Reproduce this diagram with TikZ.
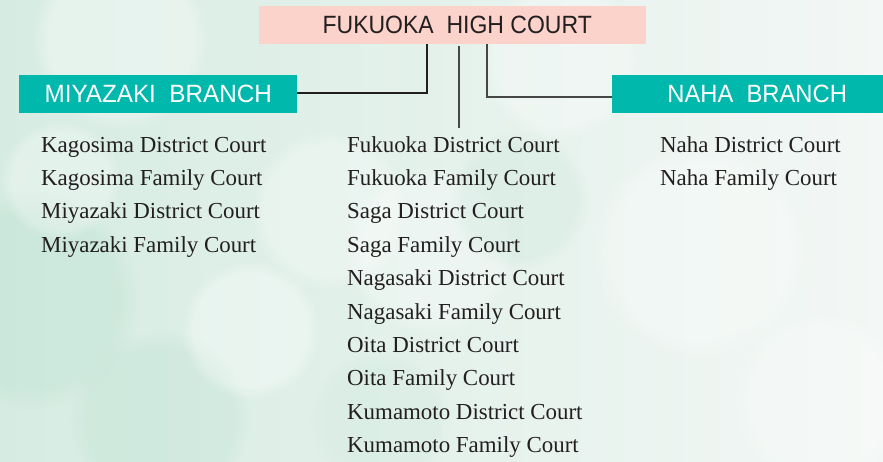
\documentclass[tikz,border=0pt]{standalone}
\usepackage{fontspec}
\setmainfont{Liberation Serif}
\newfontfamily\hdfont[FakeStretch=0.92]{Liberation Sans}
\newfontfamily\brfont[FakeStretch=0.97]{Liberation Sans}
\newfontfamily\nbfont[FakeStretch=0.95]{Liberation Sans}
\usetikzlibrary{fadings}
\definecolor{bgleft}{RGB}{214,236,226}
\definecolor{bgright}{RGB}{243,247,245}
\definecolor{mint}{RGB}{185,224,207}
\definecolor{pinkbox}{RGB}{251,211,202}
\definecolor{tealbox}{RGB}{0,184,172}
\definecolor{ink}{RGB}{35,31,32}
\definecolor{lineg}{RGB}{70,70,70}
\tikzset{
  hcbox/.style={fill=pinkbox, minimum width=387pt, minimum height=38pt, inner sep=0pt,
    font=\hdfont\fontsize{25}{25}\selectfont, text=ink},
  brbox/.style={fill=tealbox, minimum height=38pt, inner sep=0pt,
    font=\brfont\fontsize{25}{25}\selectfont, text=white},
  court/.style={anchor=base west, inner sep=0pt, font=\fontsize{22.9}{24}\selectfont, text=ink},
  conn/.style={draw=lineg, line width=1.1pt},
  bokeh/.style={path fading=circle with fuzzy edge 20 percent},
}
\begin{document}
\begin{tikzpicture}[x=1pt,y=-1pt]
\useasboundingbox (0,0) rectangle (883,461);
\clip (0,0) rectangle (883,461);
% background
\shade[left color=bgleft, right color=bgright] (0,0) rectangle (883,461);
\fill[white, opacity=0.35, bokeh] (120,40) circle (90);
\fill[white, opacity=0.3, bokeh] (330,210) circle (80);
\fill[mint, opacity=0.35, bokeh] (30,300) circle (110);
\fill[mint, opacity=0.3, bokeh] (160,420) circle (90);
\fill[white, opacity=0.35, bokeh] (250,330) circle (70);
\fill[white, opacity=0.3, bokeh] (430,250) circle (85);
\fill[mint, opacity=0.2, bokeh] (520,200) circle (70);
\fill[white, opacity=0.3, bokeh] (560,60) circle (80);
\fill[white, opacity=0.3, bokeh] (700,250) circle (110);
\fill[white, opacity=0.25, bokeh] (820,400) circle (90);
\fill[mint, opacity=0.15, bokeh] (380,420) circle (70);
\fill[white, opacity=0.3, bokeh] (60,180) circle (60);

% boxes
\node[hcbox, anchor=north west] (hc) at (259,6) {\hspace*{9pt}FUKUOKA\ \ HIGH COURT};
\node[brbox, minimum width=278pt, anchor=north west] (mb) at (19,75) {MIYAZAKI\ \ BRANCH};
\node[brbox, minimum width=290pt, anchor=north west, font=\nbfont\fontsize{25}{25}\selectfont] (nb) at (612,75) {NAHA\ \ BRANCH};

% connector end points
\coordinate (lk) at (427,93);
\coordinate (rk) at (487,97);
\coordinate (mend) at (459,128);

\draw[conn, draw=ink] (hc.south -| lk) -- (lk) -- (lk -| mb.east);
\draw[conn] (hc.south -| rk) -- (rk) -- (rk -| nb.west);
\draw[conn] ([yshift=-2pt]hc.south -| mend) -- (mend);

% courts
\node[court] (k1) at (41,152) {Kagosima District Court};
\node[court] (k2) at (41,185.4) {Kagosima Family Court};
\node[court] (k3) at (41,218.8) {Miyazaki District Court};
\node[court] (k4) at (41,252.2) {Miyazaki Family Court};

\node[court] (f1) at (347,152) {Fukuoka District Court};
\node[court] (f2) at (347,185.4) {Fukuoka Family Court};
\node[court] (f3) at (347,218.8) {Saga District Court};
\node[court] (f4) at (347,252.2) {Saga Family Court};
\node[court] (f5) at (347,285.6) {Nagasaki District Court};
\node[court] (f6) at (347,319) {Nagasaki Family Court};
\node[court] (f7) at (347,352.4) {Oita District Court};
\node[court] (f8) at (347,385.8) {Oita Family Court};
\node[court] (f9) at (347,419.2) {Kumamoto District Court};
\node[court] (f10) at (347,452.6) {Kumamoto Family Court};

\node[court] (n1) at (660,152) {Naha District Court};
\node[court] (n2) at (660,185.4) {Naha Family Court};
\end{tikzpicture}
\end{document}
